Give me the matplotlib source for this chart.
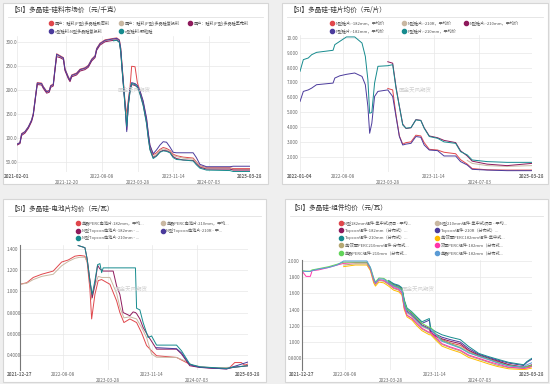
import numpy as np
import pandas as pd
import matplotlib
matplotlib.use('Agg')
import matplotlib.pyplot as plt
from matplotlib.lines import Line2D
from matplotlib.patches import Rectangle

plt.rcParams['font.family'] = ['Noto Sans CJK SC', 'DejaVu Sans']
plt.rcParams['axes.unicode_minus'] = False

W, H = 550, 384

# ---------------- 数据 ----------------
# 图1 硅料市场价（元/千克）
dates1 = ['2021-02-01', '2021-02-20', '2021-03-03', '2021-03-25', '2021-04-16', '2021-05-07', '2021-05-18',
          '2021-06-05', '2021-06-13', '2021-07-11', '2021-07-22', '2021-08-13', '2021-08-30', '2021-09-08',
          '2021-09-25', '2021-10-06', '2021-10-17', '2021-11-08', '2021-11-30', '2021-12-10', '2022-01-01',
          '2022-01-12', '2022-01-23', '2022-02-24', '2022-03-18', '2022-04-19', '2022-05-11', '2022-06-02',
          '2022-06-24', '2022-07-04', '2022-07-26', '2022-08-28', '2022-10-21', '2022-11-12', '2022-11-29',
          '2022-12-08', '2022-12-16', '2022-12-25', '2023-01-05', '2023-01-16', '2023-01-26', '2023-02-06',
          '2023-02-17', '2023-03-11', '2023-03-26', '2023-04-11', '2023-05-03', '2023-05-25', '2023-06-05',
          '2023-06-16', '2023-07-07', '2023-07-29', '2023-08-20', '2023-09-10', '2023-10-02', '2023-10-24',
          '2023-11-14', '2023-12-06', '2024-01-18', '2024-03-23', '2024-04-13', '2024-05-06', '2024-06-18',
          '2024-11-17', '2024-12-09', '2025-03-28']
si_dense = [88, 91, 110, 114, 124, 138, 152, 197, 216, 215, 208, 198, 200, 210, 213, 245, 276, 272, 268, 245,
            228, 222, 232, 236, 244, 247, 252, 265, 272, 287, 298, 305, 308, 309, 305, 288, 255, 220, 176, 150,
            180, 205, 250, 249, 216, 200, 175, 140, 110, 85, 66, 70, 77, 81, 79, 75, 67, 64, 61, 59,
            51, 43, 39, 39, 37, 37]
si_recharge = [88, 90, 108, 113, 123, 137, 150, 195, 214, 213, 206, 196, 198, 208, 211, 243, 273, 270, 266, 243,
               226, 220, 230, 234, 242, 245, 250, 263, 270, 285, 296, 303, 306, 307, 303, 284, 250, 215, 172, 140,
               172, 200, 215, 213, 210, 198, 172, 136, 106, 80, 62, 67, 75, 78, 76, 73, 65, 62, 59, 57,
               50, 42, 38, 38, 35, 35]
si_cauliflower = [86, 89, 106, 111, 121, 135, 148, 193, 212, 211, 204, 194, 196, 206, 209, 241, 270, 268, 264, 241,
                  224, 218, 228, 232, 240, 243, 248, 261, 268, 283, 294, 301, 304, 305, 300, 280, 245, 210, 168, 118,
                  168, 198, 212, 210, 207, 195, 170, 133, 103, 78, 60, 64, 72, 75, 74, 71, 62, 58, 55, 54,
                  47, 40, 36, 36, 34, 34]
si_ntype = [88, 91, 109, 114, 124, 138, 151, 196, 215, 214, 207, 197, 199, 209, 212, 244, 275, 271, 267, 244,
            227, 221, 231, 235, 243, 246, 251, 264, 271, 286, 297, 304, 307, 308, 304, 286, 252, 216, 170, 114,
            172, 203, 216, 214, 210, 200, 178, 142, 112, 86, 68, 76, 86, 93, 92, 82, 71, 70, 70, 70,
            60, 46, 41, 41, 42, 42]
si_granular = [None] * 32 + [303, 304, 300, 280, 246, 212, 165, 125, 168, 196, 214, 212, 206, 193, 168, 130, 100,
                             76, 58, 63, 71, 74, 73, 70, 60, 56, 55, 53, 45, 38, 34, 33, 31, 31]
names1 = ['国产：硅料(P型)多晶硅致密料', '国产：硅料(P型)多晶硅复投料', '国产：硅料(P型)多晶硅菜花料',
          'n型硅料:N型多晶硅复投料', 'n型硅料:颗粒硅']
ticks1 = ['2021-02-01', '2021-12-20', '2022-08-08', '2023-03-28', '2023-11-14', '2024-07-03', '2025-03-28']

# 图2 硅片均价（元/片）
dates2 = ['2022-01-04', '2022-01-21', '2022-02-15', '2022-03-04', '2022-03-29', '2022-06-21', '2022-06-30',
          '2022-07-25', '2022-08-28', '2022-10-09', '2022-11-15', '2022-12-02', '2022-12-15', '2022-12-24',
          '2023-01-04', '2023-01-18', '2023-02-04', '2023-03-26', '2023-04-20', '2023-05-07', '2023-05-24',
          '2023-06-10', '2023-06-27', '2023-07-22', '2023-08-16', '2023-09-10', '2023-09-27', '2023-10-23',
          '2023-12-04', '2024-01-06', '2024-03-05', '2024-03-30', '2024-05-03', '2024-05-28', '2024-08-12',
          '2024-11-21', '2025-03-28']
wf_n182 = [None] * 17 + [6.6, 6.5, 4.8, 3.4, 2.85, 2.95, 3.0, 3.45, 3.4, 2.95, 2.5, 2.45, 2.3, 2.2, 1.8, 1.5,
                         1.2, 1.12, 1.1, 1.1]
wf_n210r = [None] * 32 + [1.75, 1.55, 1.4, 1.35, 1.4]
wf_n210 = [None] * 17 + [8.4, 8.3, 6.7, 5.4, 4.2, 3.9, 3.95, 4.5, 4.45, 3.95, 3.4, 3.28, 3.1, 2.95, 2.4, 2.05,
                         1.7, 1.5, 1.4, 1.55]
wf_p182 = [5.72, 6.4, 6.5, 6.62, 6.85, 6.96, 7.3, 7.45, 7.55, 7.64, 7.41, 6.85, 5.38, 3.58, 4.26, 6.06, 6.4,
           6.5, 6.06, 4.7, 3.36, 2.79, 2.85, 2.9, 3.36, 3.31, 2.79, 2.45, 2.41, 2.05, 2.05, 1.67, 1.44, 1.15,
           1.1, 1.06, 1.06]
wf_p210 = [7.75, 8.54, 8.65, 8.87, 9.03, 9.17, 9.55, 9.77, 10.07, 10.07, 9.66, 8.76, 7.18, 4.93, 4.98, 6.96,
           8.09, 8.13, 8.2, 6.6, 5.38, 4.14, 3.92, 3.96, 4.48, 4.44, 3.92, 3.36, 3.24, 3.0, 2.9, 2.34, 2.12,
           1.78, 1.67, 1.62, 1.62]
names2 = ['N型硅片:-182mm，平均价', 'N型硅片:-210R，平均价', 'N型硅片:-210mm，平均价',
          'P型硅片:-182mm，平均价', 'P型硅片:-210mm，平均价']
ticks2 = ['2022-01-04', '2022-08-08', '2023-03-28', '2023-11-14', '2024-07-03', '2025-03-28']

# 图3 电池片均价（元/瓦）
dates3 = ['2021-12-27', '2022-01-31', '2022-03-06', '2022-04-19', '2022-06-18', '2022-08-01', '2022-09-04',
          '2022-10-09', '2022-11-04', '2022-11-30', '2022-12-12', '2022-12-26', '2023-01-04', '2023-01-21',
          '2023-02-07', '2023-02-25', '2023-04-09', '2023-05-14', '2023-05-31', '2023-06-21', '2023-07-22',
          '2023-08-26', '2023-09-21', '2023-10-17', '2023-11-12', '2023-12-08', '2024-03-21', '2024-05-12',
          '2024-06-15', '2024-09-27', '2024-12-23', '2025-01-18', '2025-02-21', '2025-03-11', '2025-03-28']
cell_perc182 = [1.066, 1.08, 1.13, 1.16, 1.19, 1.275, 1.294, 1.33, 1.337, 1.33, 1.27, 1.02, 0.74, 0.97, 1.1,
                1.11, 1.066, 0.91, 0.8, 0.706, 0.74, 0.706, 0.61, 0.49, 0.44, 0.394, 0.378, 0.33, 0.30, 0.275,
                0.284, 0.33, 0.33, 0.306, 0.316]
cell_perc210 = [1.066, 1.075, 1.11, 1.14, 1.16, 1.24, 1.28, 1.31, 1.32, 1.32, 1.28, 1.1, 0.925, 1.05, 1.14,
                1.13, 1.13, 0.98, 0.85, 0.75, 0.76, 0.74, 0.66, 0.565, 0.41, 0.38, 0.378, 0.34, 0.30, 0.28,
                0.285, 0.29, 0.295, 0.30, 0.30]
dates3t = ['2022-10-26', '2022-11-30', '2022-12-12', '2022-12-26', '2023-01-07', '2023-01-21', '2023-02-04',
           '2023-02-16', '2023-02-25', '2023-03-05', '2023-04-26', '2023-05-14', '2023-05-31', '2023-06-17',
           '2023-07-22', '2023-08-08', '2023-08-20', '2023-08-26', '2023-09-12', '2023-09-29', '2023-10-25',
           '2023-11-12', '2023-12-08', '2024-03-21', '2024-04-16', '2024-05-29', '2024-07-20', '2024-12-06',
           '2025-01-09', '2025-03-28']
cell_top182 = [1.43, 1.41, 1.3, 1.1, 0.94, 1.066, 1.244, 1.21, 1.2, 1.19, 1.19, 1.05, 0.97, 0.8, 0.77, 0.806,
               0.8, 0.79, 0.74, 0.66, 0.58, 0.53, 0.456, 0.456, 0.41, 0.3, 0.284, 0.27, 0.284, 0.3]
cell_top210r = [None] * 22 + [0.47, 0.46, 0.42, 0.31, 0.285, 0.27, 0.29, 0.335]
cell_top210 = [1.43, 1.41, 1.3, 1.1, 0.97, 1.1, 1.25, 1.26, 1.175, 1.22, 1.22, 1.22, 1.22, 1.22, 1.22, 1.22,
               1.22, 0.84, 0.825, 0.706, 0.565, 0.58, 0.494, 0.494, 0.44, 0.316, 0.29, 0.275, 0.285, 0.30]
names3 = ['单晶PERC电池片:182mm，平均...', '单晶PERC电池片:210mm，平均...', 'N型Topcon电池片-182mm - ...',
          'N型Topcon电池片-210R - 平...', 'N型Topcon电池片-210mm - ...']
ticks3 = ['2021-12-27', '2022-08-08', '2023-03-28', '2023-11-14', '2024-07-03', '2025-03-28']

# 图4 组件均价（元/瓦）
dates4 = ['2021-12-27', '2022-01-17', '2022-02-08', '2022-02-17', '2022-03-23', '2022-05-14', '2022-06-26',
          '2022-07-30', '2022-09-28', '2022-11-27', '2022-12-15', '2023-01-01', '2023-01-10', '2023-01-28',
          '2023-02-22', '2023-03-19', '2023-04-14', '2023-05-10', '2023-05-27', '2023-06-08', '2023-06-22',
          '2023-07-18', '2023-08-12', '2023-09-07', '2023-10-15', '2023-10-22', '2023-11-15', '2023-12-19',
          '2024-01-31', '2024-03-23', '2024-05-05', '2024-06-26', '2024-08-16', '2024-09-28', '2024-11-27',
          '2025-02-13', '2025-03-02', '2025-03-28']
mod_n182 = [None] * 15 + [1.73, 1.69, 1.67, 1.64, 1.46, 1.37, 1.32, 1.26, 1.20, 1.16, 1.11, 1.07, 1.03, 0.99,
                          0.96, 0.89, 0.83, 0.79, 0.76, 0.72, 0.69, 0.69, 0.71]
mod_n210 = [None] * 15 + [1.72, 1.68, 1.66, 1.63, 1.45, 1.36, 1.31, 1.25, 1.19, 1.15, 1.10, 1.05, 1.01, 0.98,
                          0.94, 0.88, 0.82, 0.78, 0.75, 0.71, 0.68, 0.68, 0.70]
mod_top182 = [None] * 15 + [1.74, 1.70, 1.68, 1.65, 1.48, 1.38, 1.33, 1.27, 1.21, 1.17, 1.12, 1.08, 1.04, 1.01,
                            0.98, 0.90, 0.84, 0.80, 0.77, 0.72, 0.69, 0.70, 0.72]
mod_top210r = [None] * 15 + [1.75, 1.71, 1.69, 1.66, 1.50, 1.40, 1.35, 1.29, 1.23, 1.27, 1.14, 1.10, 1.06, 1.03,
                             1.00, 0.92, 0.85, 0.81, 0.78, 0.74, 0.71, 0.75, 0.79]
mod_top210 = [None] * 15 + [1.76, 1.72, 1.70, 1.67, 1.52, 1.42, 1.37, 1.31, 1.25, 1.29, 1.17, 1.13, 1.09, 1.06,
                            1.03, 0.945, 0.86, 0.82, 0.79, 0.75, 0.72, 0.76, 0.80]
mod_perc182c = [None] * 7 + [1.93, 1.95, 1.95, 1.88, 1.73, 1.69, 1.74, 1.73, 1.69, 1.64, 1.62, 1.58, 1.40, 1.31,
                             1.27, 1.20, 1.14, 1.09, 1.09, 1.03, 0.95, 0.91, 0.87, 0.81, 0.77, 0.73, 0.70, 0.67,
                             0.66, 0.665, 0.68]
mod_perc210c = [None] * 7 + [1.95, 1.965, 1.965, 1.895, 1.75, 1.71, 1.76, 1.75, 1.71, 1.66, 1.64, 1.60, 1.42,
                             1.33, 1.29, 1.22, 1.16, 1.11, 1.11, 1.05, 0.97, 0.93, 0.89, 0.83, 0.79, 0.75, 0.715,
                             0.685, 0.675, 0.685, 0.70]
mod_bifi182 = [1.877, 1.81, 1.81, 1.88, 1.89, 1.92, 1.95, 1.97, 1.98, 1.98, 1.90, 1.76, 1.72, 1.77, 1.76, 1.72,
               1.67, 1.65, 1.60, 1.42, 1.33, 1.29, 1.23, 1.17, 1.12, 1.12, 1.06, 0.98, 0.94, 0.90, 0.84, 0.80,
               0.76, 0.73, 0.69, 0.675, 0.68, 0.70]
mod_perc210d = [1.88, 1.875, 1.875, 1.89, 1.905, 1.93, 1.96, 1.985, 1.985, 1.985, 1.92, 1.79, 1.74, 1.79, 1.785,
                1.745, 1.70, 1.68, 1.65, 1.50, 1.40, 1.36, 1.29, 1.23, 1.18, 1.18, 1.11, 1.02, 0.98, 0.93, 0.87,
                0.83, 0.79, 0.75, 0.71, 0.69, 0.70, 0.71]
mod_perc182d = [1.877, 1.87, 1.87, 1.88, 1.90, 1.92, 1.95, 2.0, 2.0, 2.0, 1.92, 1.78, 1.73, 1.78, 1.775, 1.73,
                1.69, 1.665, 1.63, 1.46, 1.37, 1.33, 1.26, 1.20, 1.16, 1.16, 1.10, 1.01, 0.97, 0.925, 0.865,
                0.825, 0.785, 0.745, 0.705, 0.69, 0.72, 0.745]
names4 = ['N型182mm组件-集中式项目 - 平均...', 'N型210mm组件-集中式项目 - 平均...',
          'Topcon组件-182mm（分布式）...', 'Topcon组件-210R（分布式）...',
          'Topcon组件-210mm（分布式）...', '单/双面PERC182mm组件-集中式...',
          '单/双面PERC210mm组件-分布式...', '双面PERC组件-182mm（分布式...',
          '单晶PERC组件-210mm（分布式...', '单晶PERC组件-182mm（分布式...']
ticks4 = ticks3

# ---------------- 样式 ----------------
RED, TAN, MAG, IND, TEAL = '#e0474c', '#c9b8a2', '#8e1a5c', '#4b3b9c', '#168b8e'
GOLD, KHAKI, PINK, GREEN, LBLUE = '#ffbb00', '#b5a872', '#ff35aa', '#62d45a', '#5b9bd5'
row_flags = {'2021-12-20': 2, '2023-03-28': 2, '2024-07-03': 2}


def fmt4(v):
    d = 3 - int(np.floor(np.log10(abs(v))))
    return f'{v:.{max(d, 0)}f}'


fig = plt.figure(figsize=(5.5, 3.84), dpi=100, facecolor='#efefef')


def card(l, t, r, b):
    fig.add_artist(Rectangle((l / W, 1 - b / H), (r - l) / W, (b - t) / H, transform=fig.transFigure,
                             facecolor='white', edgecolor='#d6d6d6', lw=0.8, zorder=-5))


def header(x, y, title, sep_y, l, r):
    fig.text(x / W, 1 - y / H, title, fontsize=4.8, color='#333333', va='center', ha='left')
    fig.add_artist(Line2D([(l + 5) / W, (r - 5) / W], [1 - sep_y / H] * 2, transform=fig.transFigure,
                          color='#e2e2e2', lw=0.6))


def legend_item(x, y, color, label):
    fig.add_artist(Line2D([x / W], [1 - y / H], marker='o', ms=3.0, color=color, lw=0,
                          transform=fig.transFigure))
    fig.text((x + 3.5) / W, 1 - y / H, label, fontsize=3.0, color='#555555', va='center', ha='left')


def make_axes(l, t, r, b, ticks, ylim, yticks, ypad, spine=False):
    ax = fig.add_axes([l / W, 1 - b / H, (r - l) / W, (b - t) / H])
    ax.set_facecolor('none')
    for s in ax.spines.values():
        s.set_visible(False)
    if spine:
        ax.spines['left'].set_visible(True)
        ax.spines['left'].set_color('#777777')
        ax.spines['left'].set_linewidth(0.8)
    td = pd.to_datetime(ticks)
    ax.set_xlim(td[0], td[-1])
    labels = [('\n' if row_flags.get(t, 1) == 2 else '') + t for t in ticks]
    ax.set_xticks(td, labels=labels)
    xl = ax.get_xticklabels()
    for i in (0, len(xl) - 1):
        xl[i].set_fontweight('bold')
        xl[i].set_color('#222222')
    ax.set_ylim(ylim)
    ax.set_yticks(yticks, labels=[fmt4(v) for v in yticks], ha='left')
    ax.tick_params(axis='both', length=0, labelsize=3.3, labelcolor='#666666')
    ax.tick_params(axis='x', pad=1.5)
    ax.tick_params(axis='y', pad=ypad)
    ax.grid(color='#e8e8e8', lw=0.5)
    ax.set_axisbelow(True)
    return ax


def plot_series(ax, dates, values, color):
    ax.plot(pd.to_datetime(dates), np.array(values, dtype=float), color=color, lw=0.7)


# ---------------- 面板1 ----------------
card(3, 3, 268, 184)
header(11, 10, '【SI】多晶硅-硅料市场价（元/千克）', 16.7, 3, 268)
cols1 = [RED, TAN, MAG, IND, TEAL]
pos1 = [(51, 23), (121, 23), (190, 23), (51, 31), (121, 31)]
for (x, y), c, n in zip(pos1, cols1, names1):
    legend_item(x, y, c, n)
ax1 = make_axes(17, 36, 250, 172, ticks1, (30, 313), [50, 100, 150, 200, 250, 300], 7.9)
for vals, c in zip([si_dense, si_recharge, si_cauliflower, si_ntype, si_granular], cols1):
    plot_series(ax1, dates1, vals, c)
fig.text(134 / W, 1 - 90 / H, '国金天风期货', fontsize=4, color='#d0d0d0', ha='center', va='center')

# ---------------- 面板2 ----------------
card(282, 3, 548, 184)
header(290, 10, '【SI】多晶硅-硅片均价（元/片）', 16.7, 282, 548)
pos2 = [(332, 23), (404, 23), (466, 23), (332, 31), (404, 31)]
for (x, y), c, n in zip(pos2, cols1, names2):
    legend_item(x, y, c, n)
ax2 = make_axes(300, 35, 532, 172, ticks2, (0.97, 10.2), [2, 3, 4, 5, 6, 7, 8, 9, 10], 9.6)
for vals, c in zip([wf_n182, wf_n210r, wf_n210, wf_p182, wf_p210], cols1):
    plot_series(ax2, dates2, vals, c)
fig.text(415 / W, 1 - 90 / H, '国金天风期货', fontsize=4, color='#d0d0d0', ha='center', va='center')

# ---------------- 面板3 ----------------
card(3, 199, 266, 382)
header(11, 208.5, '【SI】多晶硅-电池片均价（元/瓦）', 216, 3, 266)
pos3 = [(78, 223), (163, 223), (78, 230.5), (163, 230.5), (78, 238)]
for (x, y), c, n in zip(pos3, cols1, names3):
    legend_item(x, y, c, n)
ax3 = make_axes(20, 245, 248, 370, ticks3, (0.26, 1.435), [0.4, 0.6, 0.8, 1.0, 1.2, 1.4], 9.4, spine=True)
plot_series(ax3, dates3, cell_perc182, RED)
plot_series(ax3, dates3, cell_perc210, TAN)
plot_series(ax3, dates3t, cell_top182, MAG)
plot_series(ax3, dates3t, cell_top210r, IND)
plot_series(ax3, dates3t, cell_top210, TEAL)
fig.text(131 / W, 1 - 289 / H, '国金天风期货', fontsize=4, color='#d0d0d0', ha='center', va='center')

# ---------------- 面板4 ----------------
card(285, 199, 548, 382)
header(291, 208, '【SI】多晶硅-组件均价（元/瓦）', 215.5, 285, 548)
cols4 = [RED, TAN, MAG, IND, TEAL, GOLD, KHAKI, PINK, GREEN, LBLUE]
order4 = [(0, 0), (1, 0), (0, 1), (1, 1), (0, 2), (1, 2), (0, 3), (1, 3), (0, 4), (1, 4)]
rows4 = [222.7, 230.3, 237.7, 245.3, 253]
xcol4 = [341, 437]
# 图例顺序：左列 红/紫红/青/卡其/绿，右列 棕褐/靛蓝/金/粉/浅蓝
leg4 = [0, 1, 2, 3, 4, 5, 6, 7, 8, 9]
legend_colors4 = [RED, TAN, MAG, IND, TEAL, GOLD, KHAKI, PINK, GREEN, LBLUE]
legend_names4 = [names4[0], names4[1], names4[2], names4[3], names4[4], names4[5], names4[6], names4[7],
                 names4[8], names4[9]]
for (cx, ry), c, n in zip(order4, legend_colors4, legend_names4):
    legend_item(xcol4[cx], rows4[ry], c, n)
ax4 = make_axes(302, 260, 532, 370, ticks4, (0.655, 2.012), [0.8, 1.0, 1.2, 1.4, 1.6, 1.8, 2.0], 9.9,
                spine=True)
series4 = [mod_n182, mod_n210, mod_top182, mod_top210r, mod_top210, mod_perc182c, mod_perc210c,
           mod_bifi182, mod_perc210d, mod_perc182d]
for vals, c in zip(series4, cols4):
    plot_series(ax4, dates4, vals, c)
fig.text(418 / W, 1 - 289 / H, '国金天风期货', fontsize=4, color='#d0d0d0', ha='center', va='center')

fig.savefig('out.png', dpi=100, facecolor=fig.get_facecolor())
